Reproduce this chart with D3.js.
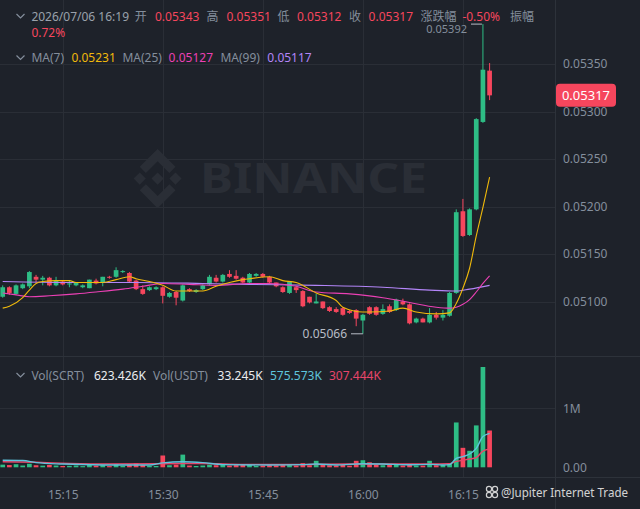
<!DOCTYPE html>
<html><head><meta charset="utf-8">
<script src="https://cdn.jsdelivr.net/npm/d3@7/dist/d3.min.js"></script>
<style>
html,body{margin:0;padding:0;background:#1e222a;overflow:hidden}
svg{display:block;font-family:"Noto Sans","Noto Sans CJK SC",sans-serif}
</style></head>
<body><svg id="c" width="640" height="509"></svg>
<script>
// ---- data ----
const opens  = [0.05105,0.05115,0.05108,0.05114,0.05116,0.05126,0.05123,0.05125,0.05117,0.05121,0.05118,0.05117,0.05115,0.05114,0.05122,0.05120,0.05126,0.05126,0.05131,0.05130,0.05122,0.05113,0.05112,0.05113,0.05115,0.05105,0.05110,0.05101,0.05113,0.05110,0.05113,0.05118,0.05125,0.05121,0.05129,0.05127,0.05125,0.05120,0.05127,0.05129,0.05126,0.05120,0.05115,0.05109,0.05115,0.05111,0.05105,0.05098,0.05100,0.05094,0.05092,0.05093,0.05090,0.05091,0.05080,0.05094,0.05094,0.05087,0.05095,0.05091,0.05100,0.05097,0.05078,0.05082,0.05078,0.05086,0.05083,0.05085,0.05109,0.05195,0.05170,0.05197,0.05289,0.05343];
const highs  = [0.05117,0.05116,0.05118,0.05119,0.05132,0.05128,0.05127,0.05126,0.05126,0.05122,0.05122,0.05120,0.05118,0.05123,0.05124,0.05126,0.05127,0.05136,0.05133,0.05131,0.05123,0.05117,0.05116,0.05116,0.05116,0.05110,0.05111,0.05118,0.05114,0.05113,0.05118,0.05128,0.05128,0.05129,0.05133,0.05133,0.05126,0.05130,0.05130,0.05130,0.05127,0.05120,0.05116,0.05121,0.05116,0.05112,0.05105,0.05108,0.05100,0.05095,0.05094,0.05094,0.05091,0.05092,0.05087,0.05095,0.05095,0.05097,0.05097,0.05103,0.05103,0.05098,0.05083,0.05083,0.05093,0.05089,0.05091,0.05110,0.05197,0.05208,0.05198,0.05293,0.05392,0.05351];
const lows   = [0.05104,0.05107,0.05107,0.05113,0.05114,0.05120,0.05117,0.05116,0.05116,0.05117,0.05115,0.05116,0.05114,0.05114,0.05118,0.05116,0.05124,0.05125,0.05130,0.05120,0.05112,0.05107,0.05111,0.05112,0.05098,0.05104,0.05096,0.05100,0.05110,0.05109,0.05112,0.05117,0.05120,0.05120,0.05125,0.05123,0.05119,0.05119,0.05126,0.05125,0.05119,0.05115,0.05109,0.05108,0.05109,0.05094,0.05098,0.05098,0.05092,0.05089,0.05088,0.05085,0.05087,0.05074,0.05066,0.05086,0.05085,0.05086,0.05088,0.05090,0.05096,0.05076,0.05077,0.05078,0.05077,0.05081,0.05080,0.05084,0.05108,0.05168,0.05169,0.05196,0.05288,0.05312];
const closes = [0.05115,0.05109,0.05117,0.05118,0.05131,0.05123,0.05125,0.05117,0.05122,0.05118,0.05119,0.05120,0.05117,0.05123,0.05119,0.05126,0.05125,0.05133,0.05132,0.05121,0.05113,0.05108,0.05115,0.05115,0.05106,0.05109,0.05104,0.05117,0.05111,0.05112,0.05117,0.05126,0.05121,0.05128,0.05126,0.05124,0.05120,0.05129,0.05129,0.05126,0.05120,0.05116,0.05110,0.05121,0.05112,0.05095,0.05099,0.05100,0.05093,0.05090,0.05089,0.05086,0.05088,0.05082,0.05086,0.05087,0.05086,0.05092,0.05089,0.05102,0.05097,0.05077,0.05082,0.05078,0.05086,0.05083,0.05086,0.05109,0.05194,0.05169,0.05197,0.05292,0.05344,0.05317];
const volumes = [45000,38000,52000,30000,60000,35000,28000,40000,30000,22000,25000,30000,20000,45000,28000,35000,20000,55000,25000,48000,70000,40000,25000,22000,200000,35000,45000,215000,30000,22000,30000,45000,35000,40000,30000,38000,50000,42000,25000,30000,35000,32000,38000,45000,30000,70000,35000,110000,40000,35000,30000,45000,28000,110000,120000,85000,40000,35000,40000,45000,30000,55000,30000,28000,110000,35000,40000,60000,760000,330000,280000,710000,1700000,623426];
// moving-average lines: [candle index, value]
const ma7  = [[0,0.05093],[1,0.05095],[3,0.05104],[4,0.05112],[5,0.05119],[6,0.05121],[8,0.05122],[10,0.05122],[11,0.05120],[13,0.05120],[15,0.05120],[17,0.05123],[19,0.05126],[20,0.05124],[22,0.05121],[24,0.05117],[26,0.05111],[28,0.05111],[30,0.05111],[32,0.05116],[34,0.05120],[36,0.05123],[37,0.05124],[40,0.05126],[42,0.05122],[44,0.05120],[47,0.05109],[50,0.05101],[51,0.05094],[54,0.05089],[55,0.05089],[58,0.05090],[60,0.05093],[62,0.05089],[65,0.05087],[67,0.05088],[68,0.05098],[69,0.05114],[70,0.05135],[71,0.05169],[72,0.05199],[73,0.05231]];
const ma25 = [[0,0.05109],[2,0.05107],[4,0.05105],[7,0.05106],[11,0.05108],[14,0.05110],[18,0.05113],[21,0.05116],[24,0.05119],[28,0.05118],[32,0.05117],[37,0.05119],[40,0.05119],[44,0.05116],[47,0.05110],[52,0.05108],[57,0.05104],[61,0.05099],[65,0.05094],[67,0.05093],[68,0.05094],[69,0.05097],[70,0.05102],[71,0.05110],[72,0.05119],[73,0.05127]];
const ma99 = [[0,0.05121],[10,0.05120],[20,0.05120],[30,0.05119],[37,0.05118],[47,0.05117],[57,0.05115],[64,0.05112],[68,0.05111],[70,0.05113],[73,0.05117]];
const volMa5  = [[0,120000],[3,115000],[5,80000],[9,55000],[15,40000],[22,38000],[24,75000],[27,95000],[30,80000],[33,45000],[40,38000],[45,45000],[47,55000],[50,40000],[54,60000],[57,55000],[61,42000],[64,50000],[66,40000],[67,45000],[68,150000],[69,180000],[70,225000],[71,320000],[72,520000],[73,575573]];
const volMa10 = [[0,95000],[5,85000],[10,65000],[16,55000],[24,60000],[30,65000],[36,50000],[45,48000],[52,55000],[58,55000],[64,55000],[67,60000],[68,100000],[69,120000],[70,140000],[71,165000],[72,275000],[73,307444]];
const priceTicks = [0.0510,0.0515,0.0520,0.0525,0.0530,0.0535];
const volTicks = [0,1000000];
const volTickLabels = ["0.00","1M"];
const timeTickIdx = [9,24,39,54,69];
const timeLabels = ["15:15","15:30","15:45","16:00","16:15"];
const lastPrice = 0.05317, lowPrice = 0.05066, lowIdx = 54, highPrice = 0.05392, highIdx = 72;

// ---- style ----
const BG="#1e222a", GRID="#2a2e36", SEP="#2d323a", TXT="#848e9c";
const UP="#2ebd85", DN="#f6465d";
const C7="#f0b90b", C25="#eb40b5", C99="#b385f8", CV5="#5ec4dc", CV10="#e8456a";

const svg = d3.select("#c");
svg.append("rect").attr("width",640).attr("height",509).attr("fill",BG);

const x = d3.scaleLinear().domain([0,73]).range([2.7,489.6]);
const y = d3.scaleLinear().domain([0.0510,0.0535]).range([301.5,64]);
const yv = d3.scaleLinear().domain([0,1e6]).range([467.3,408.3]);

// grid
const g = svg.append("g");
g.selectAll(".hg").data(priceTicks).enter().append("line")
 .attr("x1",0).attr("x2",555).attr("y1",d=>Math.round(y(d))+0.5).attr("y2",d=>Math.round(y(d))+0.5)
 .attr("stroke",GRID);
g.append("line").attr("x1",0).attr("x2",555).attr("y1",Math.round(yv(1e6))+0.5).attr("y2",Math.round(yv(1e6))+0.5).attr("stroke",GRID);
g.selectAll(".vg").data(timeTickIdx).enter().append("line")
 .attr("x1",d=>Math.round(x(d))+0.5).attr("x2",d=>Math.round(x(d))+0.5).attr("y1",0).attr("y2",477)
 .attr("stroke",GRID);
// pane separators
g.append("line").attr("x1",0).attr("x2",640).attr("y1",356.5).attr("y2",356.5).attr("stroke",SEP);
g.append("line").attr("x1",0).attr("x2",640).attr("y1",477.5).attr("y2",477.5).attr("stroke",SEP);
g.append("line").attr("x1",555.5).attr("x2",555.5).attr("y1",0).attr("y2",509).attr("stroke",SEP);

// watermark
const wm = svg.append("g").attr("fill","#2a2e36");
const logo = wm.append("g").attr("transform","translate(128,149) scale(0.47)");
[[[63,50],[76,63],[63,76],[50,63]],
 [[12,63],[25,50],[38,63],[25,76]],
 [[88,63],[101,50],[114,63],[101,76]],
 [[63,0],[101,38],[88,51],[63,26],[38,51],[25,38]],
 [[63,126],[101,88],[88,75],[63,100],[38,75],[25,88]]
].forEach(p=>logo.append("polygon").attr("points",p.map(q=>q.join(",")).join(" ")));
wm.append("text").attr("x",200).attr("y",193).attr("font-size",42).attr("font-weight",700)
 .attr("textLength",227).attr("lengthAdjust","spacingAndGlyphs").text("BINANCE");

// candles
const data = opens.map((o,i)=>({i,o,h:highs[i],l:lows[i],c:closes[i],v:volumes[i]}));
const bw = 4.7;
const cg = svg.append("g");
cg.selectAll(".wick").data(data).enter().append("line")
 .attr("x1",d=>x(d.i)).attr("x2",d=>x(d.i)).attr("y1",d=>y(d.h)).attr("y2",d=>y(d.l))
 .attr("stroke",d=>d.c>=d.o?UP:DN).attr("stroke-width",1);
cg.selectAll(".body").data(data).enter().append("rect")
 .attr("x",d=>x(d.i)-bw/2).attr("width",bw)
 .attr("y",d=>y(Math.max(d.o,d.c))).attr("height",d=>Math.max(1,Math.abs(y(d.o)-y(d.c))))
 .attr("fill",d=>d.c>=d.o?UP:DN);

// MA lines
const line = d3.line().x(d=>x(d[0])).y(d=>y(d[1])).curve(d3.curveMonotoneX);
[[ma99,C99],[ma25,C25],[ma7,C7]].forEach(([s,c])=>{
  svg.append("path").attr("d",line(s)).attr("fill","none").attr("stroke",c).attr("stroke-width",1.1);
});

// volume bars
svg.append("g").selectAll("rect").data(data).enter().append("rect")
 .attr("x",d=>x(d.i)-bw/2).attr("width",bw)
 .attr("y",d=>yv(d.v)).attr("height",d=>yv(0)-yv(d.v))
 .attr("fill",d=>d.c>=d.o?UP:DN);
const vline = d3.line().x(d=>x(d[0])).y(d=>yv(d[1])).curve(d3.curveMonotoneX);
[[volMa10,CV10],[volMa5,CV5]].forEach(([s,c])=>{
  svg.append("path").attr("d",vline(s)).attr("fill","none").attr("stroke",c).attr("stroke-width",1.4);
});

// axes
const pa = svg.append("g").attr("transform","translate(555,0)")
 .call(d3.axisRight(y).tickValues(priceTicks).tickFormat(d3.format(".5f")).tickSize(0).tickPadding(8));
const va = svg.append("g").attr("transform","translate(555,0)")
 .call(d3.axisRight(yv).tickValues(volTicks).tickFormat((d,i)=>volTickLabels[i]).tickSize(0).tickPadding(8));
const ta = svg.append("g").attr("transform","translate(0,477)")
 .call(d3.axisBottom(x).tickValues(timeTickIdx).tickFormat((d,i)=>timeLabels[i]).tickSize(0).tickPadding(13));
[pa,va,ta].forEach(a=>{
  a.select(".domain").remove();
  a.selectAll("text").attr("fill",TXT).attr("font-size",12).attr("font-family",'"Noto Sans",sans-serif');
});

// last price tag
const lp = y(lastPrice);
svg.append("rect").attr("x",556).attr("y",lp-11.5).attr("width",60).attr("height",23).attr("rx",4).attr("fill",DN);
svg.append("text").attr("x",586).attr("y",lp).attr("dominant-baseline","central").attr("text-anchor","middle")
 .attr("fill","#ffffff").attr("font-size",13).text(d3.format(".5f")(lastPrice));

// high / low markers
const mk = "#b7bdc6";
svg.append("line").attr("x1",351).attr("x2",x(lowIdx)).attr("y1",y(lowPrice)).attr("y2",y(lowPrice)).attr("stroke",mk);
svg.append("text").attr("x",347).attr("y",y(lowPrice)).attr("text-anchor","end").attr("dominant-baseline","central")
 .attr("fill",mk).attr("font-size",12).text(d3.format(".5f")(lowPrice));
svg.append("line").attr("x1",471).attr("x2",x(highIdx)-1).attr("y1",y(highPrice)).attr("y2",y(highPrice)).attr("stroke",mk);
svg.append("text").attr("x",467).attr("y",y(highPrice)+4).attr("text-anchor","end").attr("dominant-baseline","central")
 .attr("fill",TXT).attr("font-size",11).text(d3.format(".5f")(highPrice));

// headers
function chevron(yc){
  svg.append("path").attr("d",`M16.5,${yc-2} L20.5,${yc+2} L24.5,${yc-2}`).attr("fill","none").attr("stroke",TXT).attr("stroke-width",1.2);
}
function row(yc, items){
  items.forEach(([xx,t,c])=>svg.append("text").attr("x",xx).attr("y",yc).attr("dominant-baseline","central")
   .attr("fill",c).attr("font-size",12).text(t));
}
chevron(16);
row(16,[[31.4,"2026/07/06 16:19","#9aa1ab"],[134.7,"开",TXT],[155,"0.05343",DN],[206.5,"高",TXT],[226.5,"0.05351",DN],
 [277.5,"低",TXT],[297,"0.05312",DN],[349,"收",TXT],[368.6,"0.05317",DN],[420.4,"涨跌幅",TXT],[462.4,"-0.50%",DN],[510,"振幅",TXT]]);
row(32.5,[[31.4,"0.72%",DN]]);
chevron(57.5);
row(57.5,[[31.4,"MA(7)",TXT],[71.4,"0.05231",C7],[122.4,"MA(25)",TXT],[168.6,"0.05127",C25],[220.4,"MA(99)",TXT],[267.3,"0.05117",C99]]);
chevron(375);
row(375,[[31.4,"Vol(SCRT)",TXT],[94,"623.426K","#eaecef"],[153,"Vol(USDT)",TXT],[217.6,"33.245K","#eaecef"],[270,"575.573K",CV5],[329,"307.444K",CV10]]);

// corner watermark
const cw = svg.append("g").attr("opacity",0.9);
[[489,489],[495,489],[489,495],[495,495]].forEach(p=>cw.append("circle").attr("cx",p[0]).attr("cy",p[1]).attr("r",2.6).attr("fill","none").attr("stroke","#e6e6e6").attr("stroke-width",1.2));
cw.append("text").attr("x",501).attr("y",492).attr("dominant-baseline","central").attr("fill","#e6e6e6").attr("font-size",12)
 .attr("textLength",127).attr("lengthAdjust","spacingAndGlyphs").text("@Jupiter Internet Trade");
</script></body></html>
